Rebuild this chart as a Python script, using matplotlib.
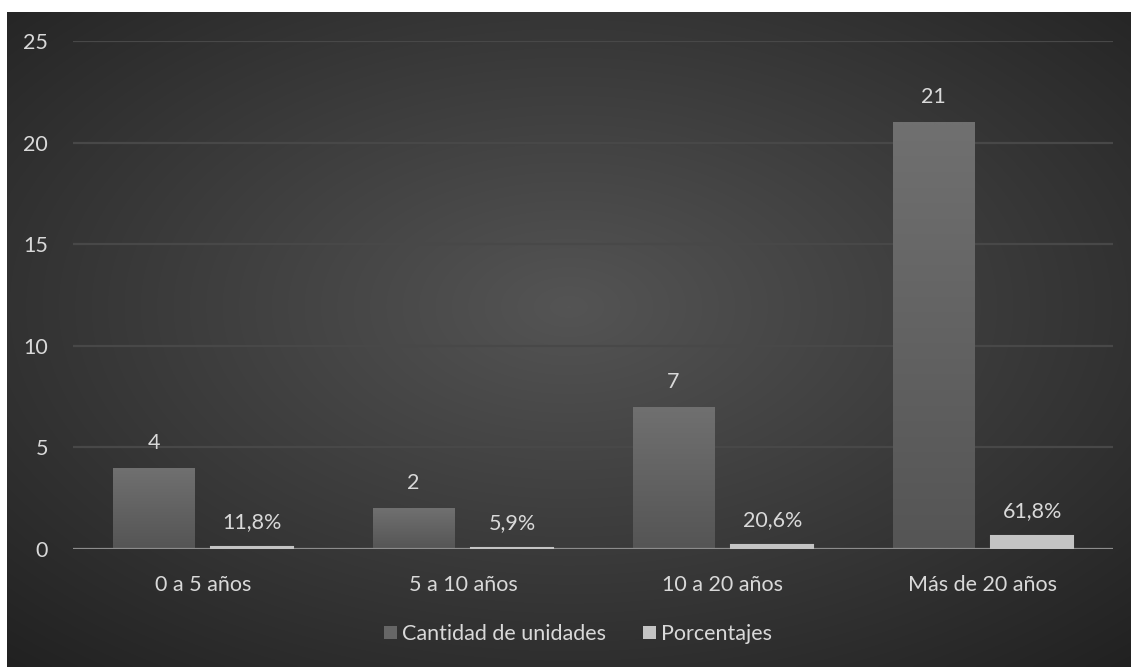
import numpy as np
import matplotlib
matplotlib.use("Agg")
import matplotlib.pyplot as plt
from matplotlib.patches import Rectangle

plt.rcParams["font.family"] = ["Lato", "DejaVu Sans"]

categorias = ["0 a 5 años", "5 a 10 años", "10 a 20 años", "Más de 20 años"]
cantidad = [4, 2, 7, 21]
porcentajes = [0.118, 0.059, 0.206, 0.618]
etiquetas_pct = ["11,8%", "5,9%", "20,6%", "61,8%"]
yticks = [0, 5, 10, 15, 20, 25]

TXT = "#d9d9d9"
FS = 15.5
W, H = 1131, 667

fig = plt.figure(figsize=(W / 100, H / 100), dpi=100, facecolor="white")

# fondo oscuro con degradado radial
bg = fig.add_axes([7 / W, 0, 1 - 7 / W, 1 - 12 / H])
bg.set_axis_off()
yy, xx = np.mgrid[-1:1:300j, -1:1:500j]
r = np.sqrt(xx ** 2 + (yy + 0.1) ** 2) / np.sqrt(2)
v = 0.33 - 0.19 * r
img = np.dstack([v, v, v])
bg.imshow(np.clip(img, 0, 1), aspect="auto", extent=[0, 1, 0, 1], interpolation="bilinear")

ax = fig.add_axes([73 / W, (H - 549) / H, (1113 - 73) / W, (549 - 41) / H])
ax.patch.set_alpha(0)
ax.set_xlim(-0.5, 3.5)
ax.set_ylim(0, 25)

x = np.arange(len(categorias))
bw = 0.315
off = 0.19


def grad_bar(x0, h, top, bottom):
    rect = Rectangle((x0 - bw / 2, 0), bw, h, facecolor="none", edgecolor="none", zorder=3)
    ax.add_patch(rect)
    g = np.linspace(0, 1, 64)[:, None]
    c0 = np.array(matplotlib.colors.to_rgb(top))
    c1 = np.array(matplotlib.colors.to_rgb(bottom))
    arr = c0[None, None, :] * (1 - g[..., None]) + c1[None, None, :] * g[..., None]
    im = ax.imshow(arr, aspect="auto", extent=[x0 - bw / 2, x0 + bw / 2, 0, h],
                   zorder=3, interpolation="bilinear")
    im.set_clip_path(rect)


for xi, c, p, lab in zip(x, cantidad, porcentajes, etiquetas_pct):
    grad_bar(xi - off, c, "#707070", "#555555")
    ax.bar(xi + off, p, bw, color="#c4c4c4", edgecolor="#c4c4c4", lw=1.5, zorder=5)
    ax.annotate(str(c), (xi - off, c), xytext=(0, 18), textcoords="offset points",
                ha="center", va="center", color=TXT, fontsize=FS)
    ax.annotate(lab, (xi + off, p), xytext=(0, 18), textcoords="offset points",
                ha="center", va="center", color=TXT, fontsize=FS)

ax.set_xlim(-0.5, 3.5)
ax.set_ylim(0, 25)
ax.set_yticks(yticks)
ax.set_yticklabels([str(t) for t in yticks])
ax.set_xticks(x)
ax.set_xticklabels(categorias)
ax.tick_params(axis="both", length=0, colors=TXT, labelsize=FS)
ax.tick_params(axis="y", pad=18)
ax.tick_params(axis="x", pad=19)
for t in yticks[1:]:
    ax.axhline(t, color="#484848", lw=1.6, zorder=1)
ax.axhline(0, color="#8c8c8c", lw=1.6, zorder=4)
for s in ax.spines.values():
    s.set_visible(False)

# leyenda
h1 = Rectangle((0, 0), 1, 1, facecolor="#666666")
h2 = Rectangle((0, 0), 1, 1, facecolor="#c4c4c4")
fig.legend([h1, h2], ["Cantidad de unidades", "Porcentajes"], loc="center",
           bbox_to_anchor=(578 / W, 1 - 634 / H), ncol=2, frameon=False,
           fontsize=FS, labelcolor=TXT, handlelength=0.6, handleheight=0.6,
           handletextpad=0.25, columnspacing=1.7)

fig.savefig("out.png", dpi=100, facecolor="white")
